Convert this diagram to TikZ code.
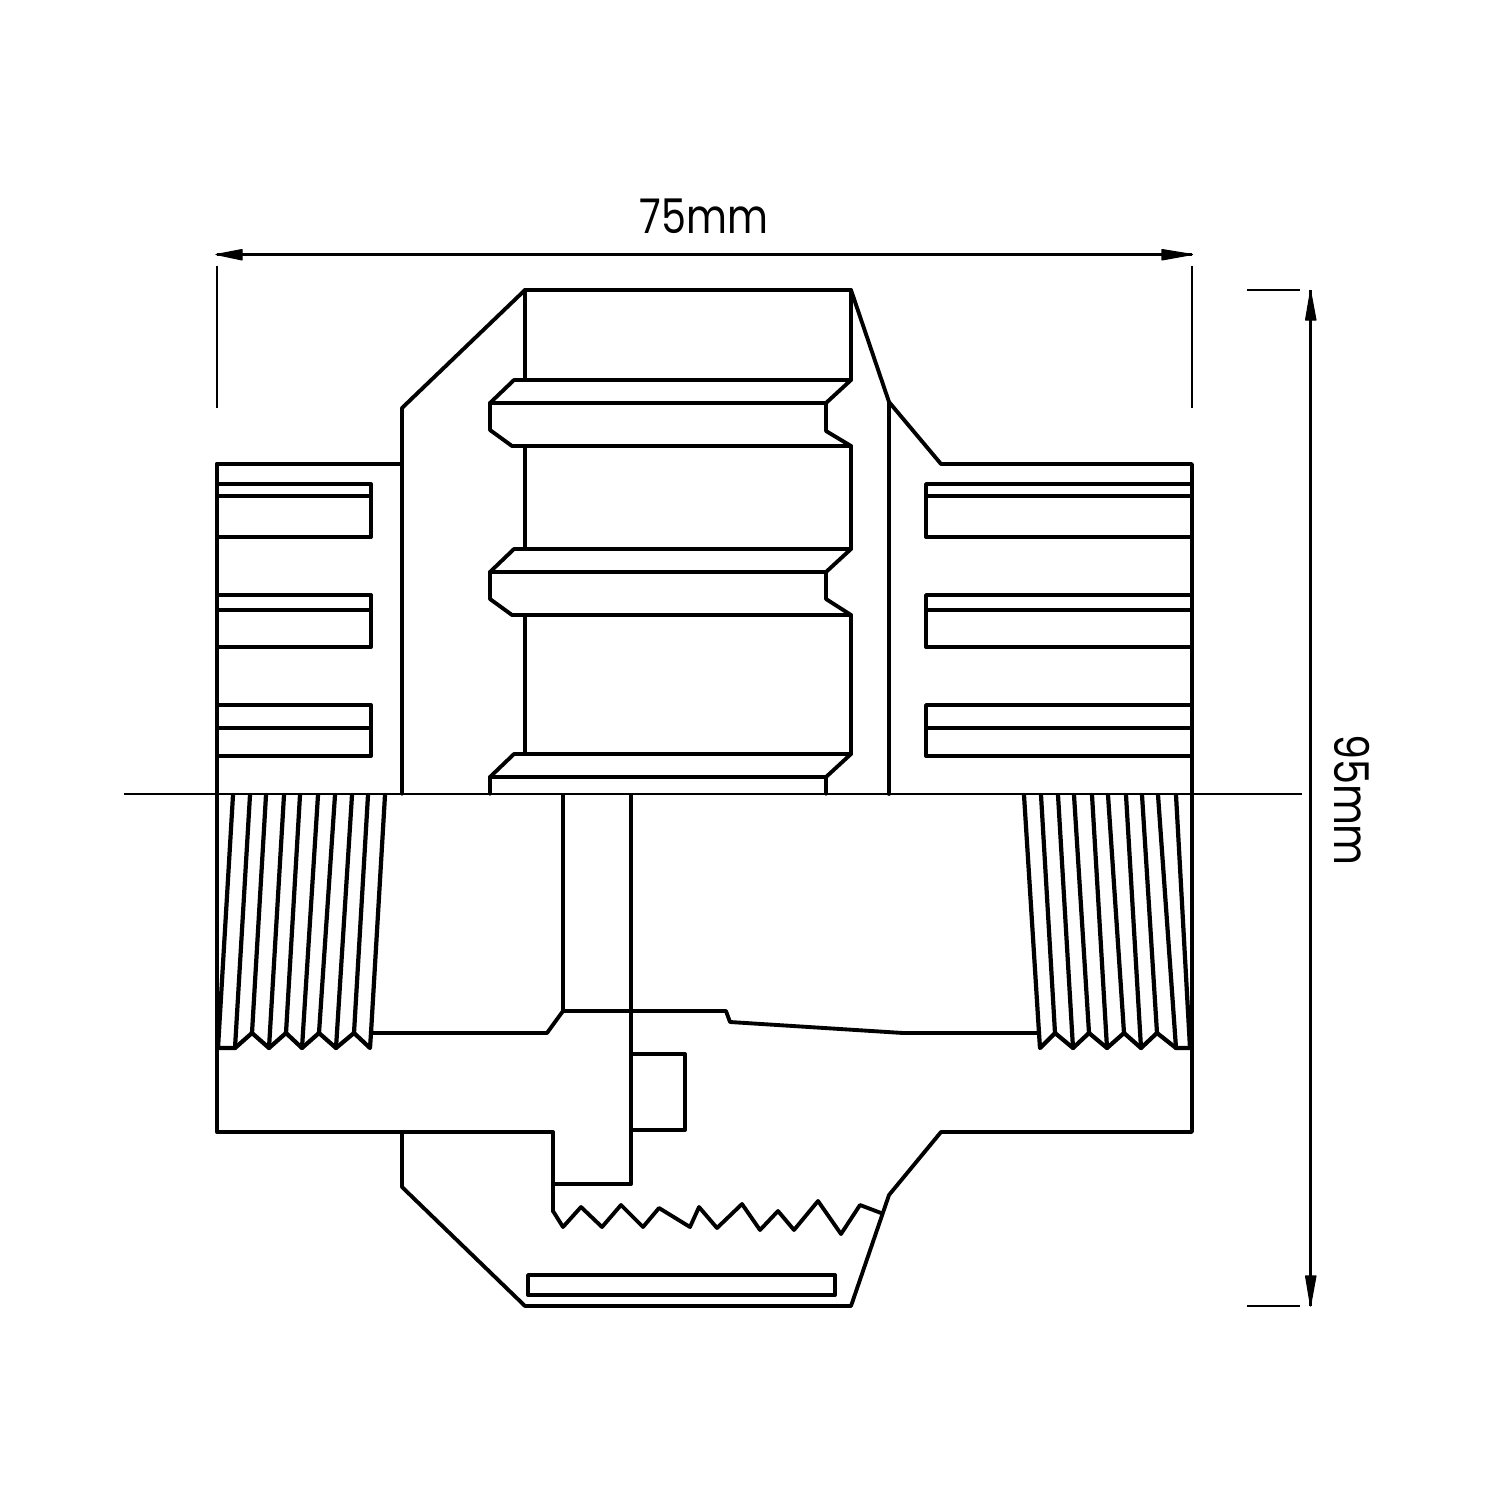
\documentclass[tikz,border=0pt]{standalone}
\usepackage{fontspec}
\setmainfont{Poppins}
\newfontfamily\dimfont[FakeStretch=0.83]{Poppins}
\tikzset{
  part/.style={line width=1.1pt,line join=round,line cap=round,black},
  threadline/.style={line width=1.2pt,line join=round,line cap=round,black},
  thin line/.style={line width=0.42pt,black},
  dimline/.style={line width=0.6pt,black},
  dim label/.style={font=\dimfont\fontsize{13.6}{16}\selectfont,inner sep=0pt,black},
  tip/.style={fill=black,draw=black,line width=0.3pt,line join=round}
}
\begin{document}
\begin{tikzpicture}[x=0.01cm,y=-0.01cm]
\useasboundingbox (0,0) rectangle (1500,1500);
\fill[white] (0,0) rectangle (1500,1500);
% centre line and extension lines
\draw[thin line] (124,794) -- (1302,794);
\draw[dimline] (217,266) -- (217,408);
\draw[dimline] (1192,266) -- (1192,408);
\draw[dimline] (1247,290) -- (1300,290);
\draw[dimline] (1247,1306) -- (1300,1306);
% dimension lines
\draw[dimline] (217,254.5) -- (1192,254.5);
\draw[dimline] (1310.5,290) -- (1310.5,1306);
\fill[tip] (216,254.5) -- (242,249.5) -- (242,260) -- cycle;
\fill[tip] (1192.5,254.5) -- (1162,249.5) -- (1162,260) -- cycle;
\fill[tip] (1310.5,290.5) -- (1305.5,320) -- (1316,320) -- cycle;
\fill[tip] (1310.5,1306) -- (1305.5,1276) -- (1316,1276) -- cycle;
\node[dim label] (w) at (704,216) {75mm};
\node[dim label,rotate=-90] (h) at (1352,800) {95mm};
% outer body
\draw[part] (217,464) -- (402,464);
\draw[part] (402,794) -- (402,408) -- (525,290) -- (851,290) -- (889,402) -- (941,464) -- (1192,464) -- (1192,1132) -- (941,1132) -- (889,1195) -- (851,1306) -- (525,1306) -- (402,1187) -- (402,1132);
\draw[part] (217,464) -- (217,1132) -- (553,1132) -- (553,1211);
\draw[part] (889,402) -- (889,794);
% central ribs
\draw[part] (525,290) -- (525,380);
\draw[part] (851,290) -- (851,380);
\draw[part] (851,380) -- (514,380) -- (490,403) -- (490,430) -- (512,446) -- (851,446) -- (826,431) -- (826,403) -- cycle;
\draw[part] (490,403) -- (826,403);
\draw[part] (525,446) -- (525,549);
\draw[part] (851,446) -- (851,549);
\draw[part] (851,549) -- (514,549) -- (490,572) -- (490,599) -- (512,615) -- (851,615) -- (826,599) -- (826,572) -- cycle;
\draw[part] (490,572) -- (826,572);
\draw[part] (525,615) -- (525,754);
\draw[part] (851,615) -- (851,754);
\draw[part] (851,754) -- (514,754) -- (490,777) -- (490,794);
\draw[part] (851,754) -- (826,777) -- (826,794);
\draw[part] (490,777) -- (826,777);
% left slots
\draw[part] (217,484) -- (371,484) -- (371,537) -- (217,537);
\draw[part] (217,496) -- (371,496);
\draw[part] (217,595) -- (371,595) -- (371,647) -- (217,647);
\draw[part] (217,610) -- (371,610);
\draw[part] (217,705) -- (371,705) -- (371,756) -- (217,756);
\draw[part] (217,728) -- (371,728);
% right slots
\draw[part] (1192,484) -- (926,484) -- (926,537) -- (1192,537);
\draw[part] (926,496) -- (1192,496);
\draw[part] (1192,595) -- (926,595) -- (926,647) -- (1192,647);
\draw[part] (926,610) -- (1192,610);
\draw[part] (1192,705) -- (926,705) -- (926,756) -- (1192,756);
\draw[part] (926,728) -- (1192,728);
% left thread
\foreach \a/\b/\c in {233/218/1048,250/235/1048,266/252/1033,284/269/1048,300/286/1033,318/302/1048,335/319/1033,352/336/1048,368/354/1033,385/371/1033}
  \draw[threadline] (\a,795) -- (\b,\c);
\draw[threadline] (218,1048) -- (235,1048) -- (252,1033) -- (269,1048) -- (286,1033) -- (302,1048) -- (319,1033) -- (336,1048) -- (354,1033) -- (370,1048) -- (371,1033);
% right thread
\foreach \a/\b/\c in {1024/1039/1033,1041/1055/1033,1058/1073/1048,1074/1089/1033,1092/1107/1048,1108/1124/1033,1126/1141/1048,1142/1157/1033,1158/1176/1048,1176/1190/1048}
  \draw[threadline] (\a,795) -- (\b,\c);
\draw[threadline] (1039,1033) -- (1040,1048) -- (1055,1033) -- (1073,1048) -- (1089,1033) -- (1107,1048) -- (1124,1033) -- (1141,1048) -- (1157,1033) -- (1176,1048) -- (1190,1048);
% bore
\draw[part] (371,1033) -- (547,1033) -- (563,1011) -- (726,1011) -- (730,1022) -- (903,1033) -- (1039,1033);
\draw[part] (563,795) -- (563,1011);
\draw[part] (631,795) -- (631,1184) -- (553,1184);
\draw[part] (631,1054) -- (685,1054) -- (685,1130) -- (631,1130);
% buttress thread
\draw[part] (553,1211) -- (563,1227) -- (581,1207) -- (602,1227) -- (621,1205) -- (643,1227) -- (659,1208) -- (690,1227) -- (699,1207) -- (717,1228) -- (742,1204) -- (760,1230) -- (778,1211) -- (794,1230) -- (818,1201) -- (841,1234) -- (860,1205) -- (881,1213);
% bottom slot
\draw[part] (528,1275) rectangle (835,1295);
\end{tikzpicture}
\end{document}
